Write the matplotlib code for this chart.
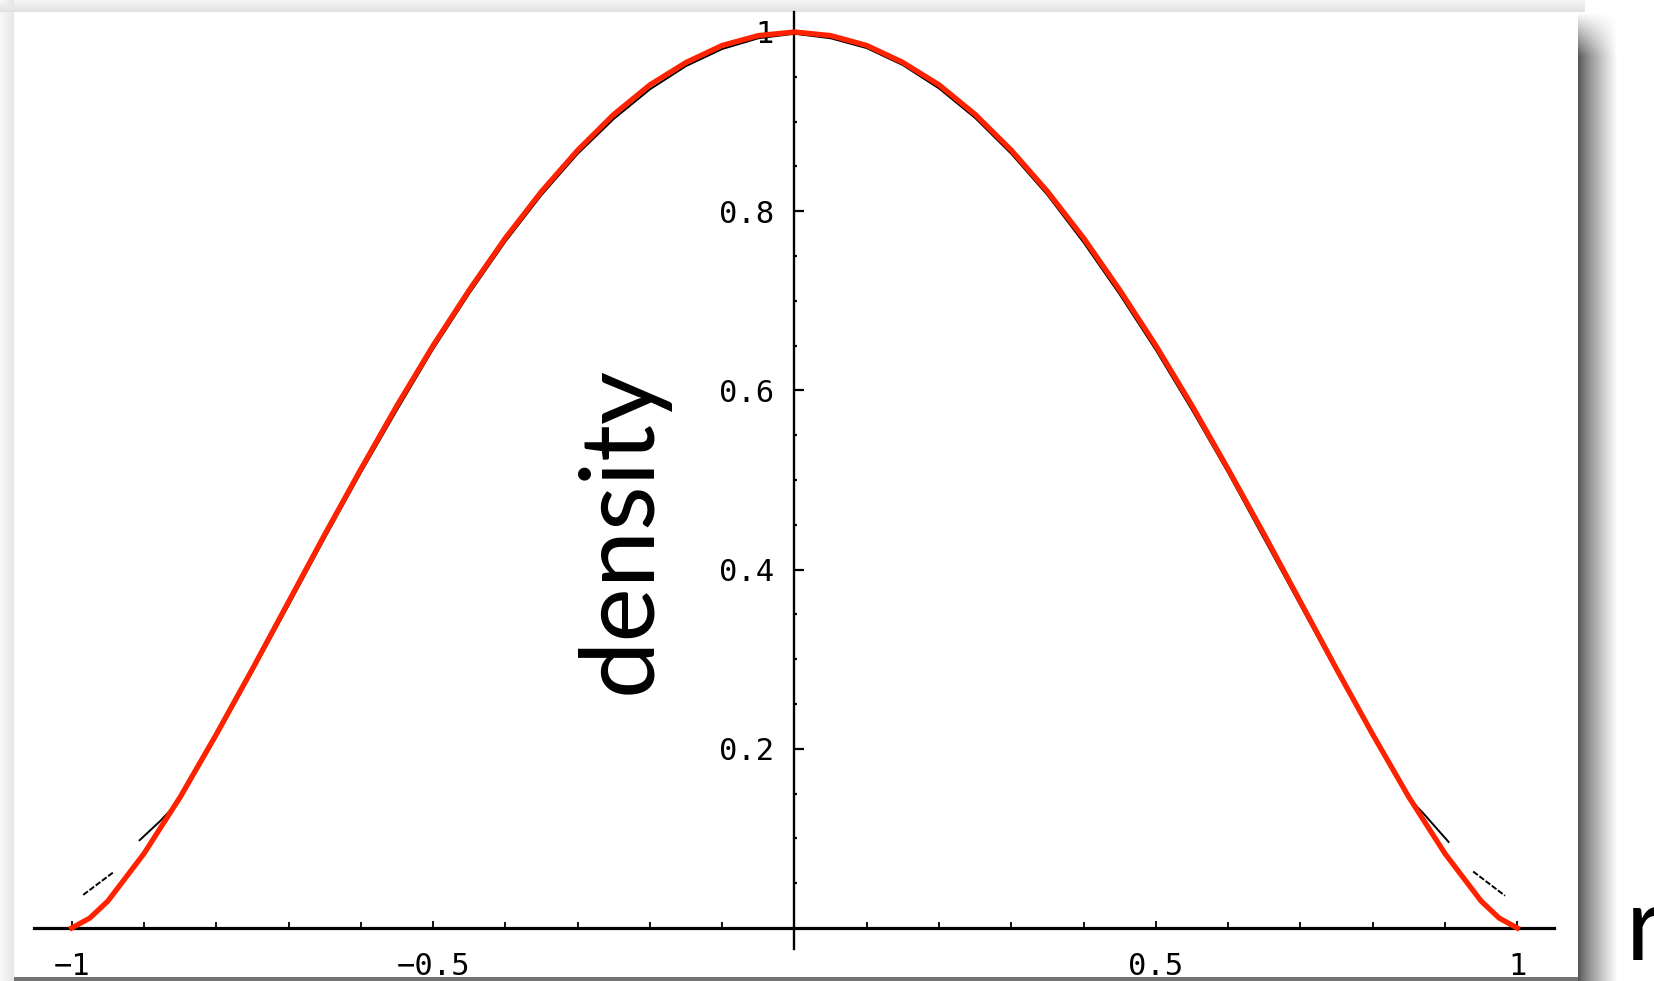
import numpy as np
import matplotlib.pyplot as plt

# values
r_fit = [-1.0, -0.975, -0.95, -0.9, -0.85, -0.8, -0.75, -0.7, -0.65, -0.6, -0.55,
         -0.5, -0.45, -0.4, -0.35, -0.3, -0.25, -0.2, -0.15, -0.1, -0.05, 0.0,
         0.05, 0.1, 0.15, 0.2, 0.25, 0.3, 0.35, 0.4, 0.45, 0.5, 0.55, 0.6,
         0.65, 0.7, 0.75, 0.8, 0.85, 0.9, 0.95, 0.975, 1.0]
density_fit = [0.0, 0.011, 0.030, 0.083, 0.146, 0.216, 0.289, 0.364, 0.439, 0.512, 0.583,
               0.650, 0.712, 0.770, 0.822, 0.868, 0.908, 0.941, 0.966, 0.985, 0.996, 1.0,
               0.996, 0.985, 0.966, 0.941, 0.908, 0.868, 0.822, 0.770, 0.712, 0.650, 0.583, 0.512,
               0.439, 0.364, 0.289, 0.216, 0.146, 0.083, 0.030, 0.011, 0.0]

# sampled density (black), three pieces
r_edge_left = [-0.984, -0.941]
dens_edge_left = [0.037, 0.063]
r_sample = [-0.906, -0.878, -0.85, -0.8, -0.75, -0.7, -0.65, -0.6, -0.55, -0.5, -0.45,
            -0.4, -0.35, -0.3, -0.25, -0.2, -0.15, -0.1, -0.05, 0.0, 0.05, 0.1, 0.15,
            0.2, 0.25, 0.3, 0.35, 0.4, 0.45, 0.5, 0.55, 0.6, 0.65, 0.7, 0.75, 0.8,
            0.85, 0.870, 0.905]
dens_sample = [0.098, 0.119, 0.143, 0.213, 0.286, 0.360, 0.435, 0.508, 0.578, 0.646, 0.708,
               0.766, 0.818, 0.864, 0.903, 0.936, 0.962, 0.981, 0.993, 0.998, 0.993, 0.982, 0.963,
               0.937, 0.904, 0.864, 0.818, 0.765, 0.707, 0.645, 0.578, 0.508, 0.434, 0.360, 0.286, 0.214,
               0.145, 0.128, 0.096]
r_edge_right = [0.939, 0.983]
dens_edge_right = [0.063, 0.036]

x_major = [-1, -0.5, 0.5, 1]
x_major_labels = ['\u22121', '\u22120.5', '0.5', '1']
y_major = [0.2, 0.4, 0.6, 0.8, 1.0]
y_major_labels = ['0.2', '0.4', '0.6', '0.8', '1']

W, H = 1654, 981
fig = plt.figure(figsize=(W / 100, H / 100), dpi=100)

# panel with drop shadow behind the plot
img = np.ones((H, W))
img[:12, :1585] = np.linspace(0.96, 0.88, 12)[:, None]
img[:, :14] = np.minimum(img[:, :14], np.linspace(0.97, 0.90, 14)[None, :])
t = np.linspace(0, 1, 40)
shade = 0.33 + 0.67 * t ** 0.8
fade = np.clip(np.linspace(0, 1, H - 12) * 22, 0, 1)[:, None]
img[12:, 1578:1618] = 1 - (1 - shade[None, :]) * fade
img[977:, 14:1578] = 0.45
bg = fig.add_axes([0, 0, 1, 1])
bg.imshow(img, extent=(0, W, H, 0), cmap='gray', vmin=0, vmax=1, aspect='auto', interpolation='bilinear')
bg.axis('off')

ax = fig.add_axes([14 / W, 1 - 977 / H, (1578 - 14) / W, (977 - 12) / H])
ax.set_facecolor('white')
ax.set_xlim(-1.0798, 1.0840)
ax.set_ylim(-0.0547, 1.0223)

ax.plot(r_edge_left, dens_edge_left, color='black', lw=1.4, ls=(0, (3, 1)), zorder=3)
ax.plot(r_sample, dens_sample, color='black', lw=1.4, zorder=3)
ax.plot(r_edge_right, dens_edge_right, color='black', lw=1.4, ls=(0, (3, 1)), zorder=3)
ax.plot(r_fit, density_fit, color='#ff2200', lw=3.8, zorder=4)

for s in ['top', 'right']:
    ax.spines[s].set_visible(False)
ax.spines['left'].set_position(('data', 0))
ax.spines['bottom'].set_position(('data', 0))
ax.spines['bottom'].set_bounds(-1.052, 1.051)
ax.spines['left'].set_bounds(-0.0234, 1.0223)
ax.spines['bottom'].set_linewidth(2.3)
ax.spines['left'].set_linewidth(1.7)

ax.set_xticks(x_major)
ax.set_xticklabels(x_major_labels)
ax.set_xticks([v / 10 for v in range(-9, 10) if v not in (-5, 0, 5)], minor=True)
ax.set_yticks(y_major)
ax.set_yticklabels(y_major_labels)
ax.set_yticks([v / 20 for v in range(1, 20) if v % 4 != 0], minor=True)

ax.tick_params(axis='x', which='major', direction='in', length=5, width=1.3, pad=17)
ax.tick_params(axis='x', which='minor', direction='in', length=4, width=1.3)
ax.tick_params(axis='y', which='major', direction='in', length=7, width=1.6, pad=15)
ax.tick_params(axis='y', which='minor', direction='in', length=2.5, width=1.6)
for lab in ax.get_xticklabels() + ax.get_yticklabels():
    lab.set_family('DejaVu Sans Mono')
    lab.set_fontsize(22)

fig.text(622 / W, 1 - 530 / H, 'density', rotation=90, fontsize=74, family='Lato',
         ha='center', va='center')
fig.text(1626 / W, 1 - 960 / H, 'r', fontsize=74, family='Lato', ha='left', va='baseline')

fig.savefig('out.png', dpi=100)
